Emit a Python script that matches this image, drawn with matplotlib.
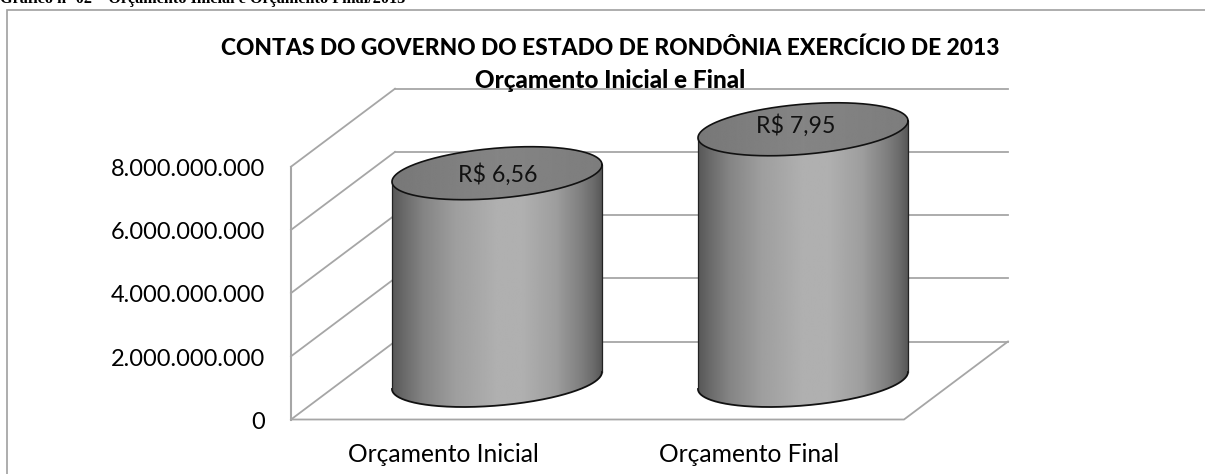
import numpy as np
import matplotlib
matplotlib.use("Agg")
import matplotlib.pyplot as plt
from matplotlib.patches import Polygon, Rectangle

W, H = 1205, 474
categories = ["Orçamento Inicial", "Orçamento Final"]
values = [6.56e9, 7.95e9]
value_labels = ["R$ 6,56", "R$ 7,95"]
ticks = [0, 2e9, 4e9, 6e9, 8e9]
tick_labels = ["0", "2.000.000.000", "4.000.000.000", "6.000.000.000", "8.000.000.000"]
title_lines = ["CONTAS DO GOVERNO DO ESTADO DE RONDÔNIA EXERCÍCIO DE 2013", "Orçamento Inicial e Final"]
caption = "Gráfico nº 02 – Orçamento Inicial e Orçamento Final/2013"

plt.rcParams["font.family"] = ["Lato", "DejaVu Sans"]
fig = plt.figure(figsize=(W / 100, H / 100), dpi=100)
ax = fig.add_axes([0, 0, 1, 1])
ax.set_xlim(0, W)
ax.set_ylim(H, 0)
ax.axis("off")

GRID = "#a6a6a6"
FX, BX, RB, RF = 291, 395, 1008, 904   # front/back wall x, right ends
Y0F, Y0B = 419.5, 341.5                # zero level front/back
PX = 31.6e-9                           # pixels per unit value

# outer frame
ax.add_patch(Rectangle((7, 9.5), W - 6, H, fc="white", ec="#a0a0a0", lw=1.2))
ax.text(0, 2.5, caption, family="Liberation Serif", weight="bold", fontsize=11.7,
        ha="left", va="baseline", color="black")

# walls / grid
for t, lab in zip(ticks, tick_labels):
    yf = Y0F - t * PX
    yb = Y0B - t * PX
    ax.plot([FX, BX], [yf, yb], color=GRID, lw=1.3, zorder=1)
    ax.plot([BX, RB], [yb, yb], color=GRID, lw=1.3, zorder=1)
    ax.text(265, yf + 9.3, lab, ha="right", va="baseline", fontsize=17, color="black")
ax.plot([FX, FX], [Y0F, Y0F - ticks[-1] * PX], color=GRID, lw=1.5, zorder=1)
ax.plot([FX, RF, RB], [Y0F, Y0F, Y0B], color=GRID, lw=1.3, zorder=1)

# cylinders
A = 105.0
SHEAR = 8.5
B = 25.1
centers = [497.0, 803.0]
label_dx = [1, -7.5]
label_dy = [8.5, 4]
cat_x = [443, 749]
ZY = 380.5


def ellipse(cx, cy, t):
    return cx + A * np.cos(t), cy - SHEAR * np.cos(t) + B * np.sin(t)


pos = np.linspace(0, 1, 512)
grad = np.interp(pos, [0, .06, .15, .3, .5, .62, .78, .9, .96, 1],
                 [.34, .42, .52, .62, .69, .69, .62, .50, .42, .34])[None, :]
tgrad = np.interp(pos, [0, .5, 1], [.47, .52, .49])[None, :]

for i, (cat, v, lab) in enumerate(zip(categories, values, value_labels)):
    cx = centers[i]
    ct = ZY - v * PX
    t1 = np.linspace(0, np.pi, 200)
    bx, by = ellipse(cx, ZY, t1)
    tx, ty = ellipse(cx, ct, t1[::-1])
    body = Polygon(np.c_[np.r_[bx, tx], np.r_[by, ty]], closed=True, fc="none", ec="none", zorder=3)
    ax.add_patch(body)
    im = ax.imshow(grad, cmap="gray", vmin=0, vmax=1, aspect="auto", interpolation="bilinear",
                   extent=[cx - A, cx + A, ZY + 40, ct - 40], zorder=3)
    im.set_clip_path(body)
    ax.plot(bx, by, color="#111111", lw=1.3, zorder=4)
    ax.plot([cx - A, cx - A], [ZY + SHEAR, ct + SHEAR], color="#222222", lw=0.9, zorder=4)
    ax.plot([cx + A, cx + A], [ZY - SHEAR, ct - SHEAR], color="#222222", lw=0.9, zorder=4)
    t2 = np.linspace(0, 2 * np.pi, 300)
    ex, ey = ellipse(cx, ct, t2)
    top = Polygon(np.c_[ex, ey], closed=True, fc="none", ec="none", zorder=5)
    ax.add_patch(top)
    im2 = ax.imshow(tgrad, cmap="gray", vmin=0, vmax=1, aspect="auto", interpolation="bilinear",
                    extent=[cx - A, cx + A, ct + 40, ct - 40], zorder=5)
    im2.set_clip_path(top)
    ax.plot(ex, ey, color="#111111", lw=1.2, zorder=6)
    ax.text(cx + label_dx[i], ct + label_dy[i], lab, ha="center", va="baseline",
            fontsize=16.7, color="#111111", zorder=7)
    ax.text(cat_x[i], 461.5, cat, ha="center", va="baseline", fontsize=17.7, color="black")

ax.set_xlim(0, W)
ax.set_ylim(H, 0)
ax.text(610, 54.5, title_lines[0], ha="center", va="baseline", fontsize=16.4, weight="black",
        color="black", zorder=8)
ax.text(610, 88, title_lines[1], ha="center", va="baseline", fontsize=17.5, weight="black",
        color="black", zorder=8)
fig.savefig("out.png", dpi=100)
